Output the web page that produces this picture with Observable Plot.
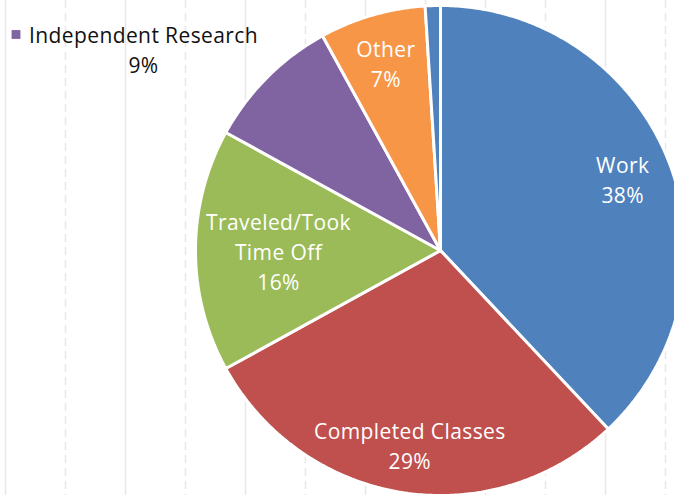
<!DOCTYPE html>
<html>
<head>
<meta charset="utf-8">
<script src="https://cdn.jsdelivr.net/npm/d3@7"></script>
<script src="https://cdn.jsdelivr.net/npm/@observablehq/plot@0.6"></script>
<style>
  html, body { margin: 0; padding: 0; background: #fff; }
  #chart { width: 674px; height: 495px; overflow: hidden; }
</style>
</head>
<body>
<div id="chart"></div>
<script>
// ---- data ----
const categories = ["Work", "Completed Classes", "Traveled/Took Time Off", "Independent Research", "Other", "Unlabeled"];
const values = [38, 29, 16, 9, 7, 1];
const labelText = ["Work", "Completed Classes", "Traveled/Took\nTime Off", "Independent Research", "Other", ""];
const colors = ["#4F81BD", "#C0504D", "#9BBB59", "#8064A2", "#F79646", "#4F81BD"];

// ---- layout ----
const W = 674, H = 495;
const cx = 440, cy = 250, R = 245;
const fontSize = 21, lineH = 1.43, letterSp = 0.4;
const font = "'Open Sans', 'Noto Sans', sans-serif";

// measure text width to keep inside labels within their slice (best-fit style)
const ctx = document.createElement("canvas").getContext("2d");
ctx.font = `${fontSize}px 'Open Sans'`;
const textW = s => Math.max(...s.split("\n").map(l => ctx.measureText(l).width + letterSp * l.length));

const arcs = d3.pie().sort(null).value(d => d)(values);
const px = a => cx + R * Math.sin(a), py = a => cy - R * Math.cos(a);

const sliceMarks = arcs.map((a, i) => {
  const n = Math.max(4, Math.ceil((a.endAngle - a.startAngle) / 0.01));
  const pts = [{x: cx, y: cy}];
  for (let k = 0; k <= n; k++) {
    const t = a.startAngle + (a.endAngle - a.startAngle) * k / n;
    pts.push({x: px(t), y: py(t)});
  }
  pts.push({x: cx, y: cy});
  return Plot.line(pts, {x: "x", y: "y", fill: colors[i], stroke: "white", strokeWidth: 3, strokeLinejoin: "miter", curve: "linear"});
});

const inside = arcs.map((a, i) => {
  const m = (a.startAngle + a.endAngle) / 2;
  const text = labelText[i] + "\n" + values[i] + "%";
  const hw = textW(text) / 2;
  let r = 0.8 * R;
  // shrink radius until the label's center line fits within the chord
  while (r > 0) {
    const x = r * Math.sin(m), y = -r * Math.cos(m);
    const half = Math.sqrt(Math.max(0, (R - 10) ** 2 - y * y));
    if (Math.abs(x) + hw <= half) break;
    r -= 1;
  }
  return {i, x: cx + r * Math.sin(m), y: cy - r * Math.cos(m), text};
}).filter(d => labelText[d.i] !== "" && categories[d.i] !== "Independent Research");

const outIdx = categories.indexOf("Independent Research");

const chart = Plot.plot({
  width: W, height: H,
  margin: 0,
  x: {domain: [0, W], range: [0, W], axis: null},
  y: {domain: [0, H], range: [0, H], axis: null},
  style: {fontFamily: font, background: "white", overflow: "hidden"},
  marks: [
    Plot.ruleX(d3.range(5, W, 120), {stroke: "#e8e8e8", strokeWidth: 1.5}),
    Plot.ruleX(d3.range(65, W, 120), {stroke: "#e8e8e8", strokeWidth: 1.5, strokeDasharray: "8,5"}),
    ...sliceMarks,
    Plot.text(inside, {x: "x", y: "y", text: "text", fill: "white", fontSize, lineHeight: lineH, lineAnchor: "middle", textAnchor: "middle"}),
    Plot.dot([0], {frameAnchor: "top-left", dx: 15.5, dy: 34, symbol: "square", r: 5, fill: colors[outIdx]}),
    Plot.text([labelText[outIdx] + "\n" + values[outIdx] + "%"], {frameAnchor: "top-left", dx: 143, dy: 21, text: d => d, fill: "#111", fontSize, lineHeight: lineH, lineAnchor: "top", textAnchor: "middle"})
  ]
});
chart.style.letterSpacing = letterSp + "px";
document.getElementById("chart").appendChild(chart);
</script>
</body>
</html>
